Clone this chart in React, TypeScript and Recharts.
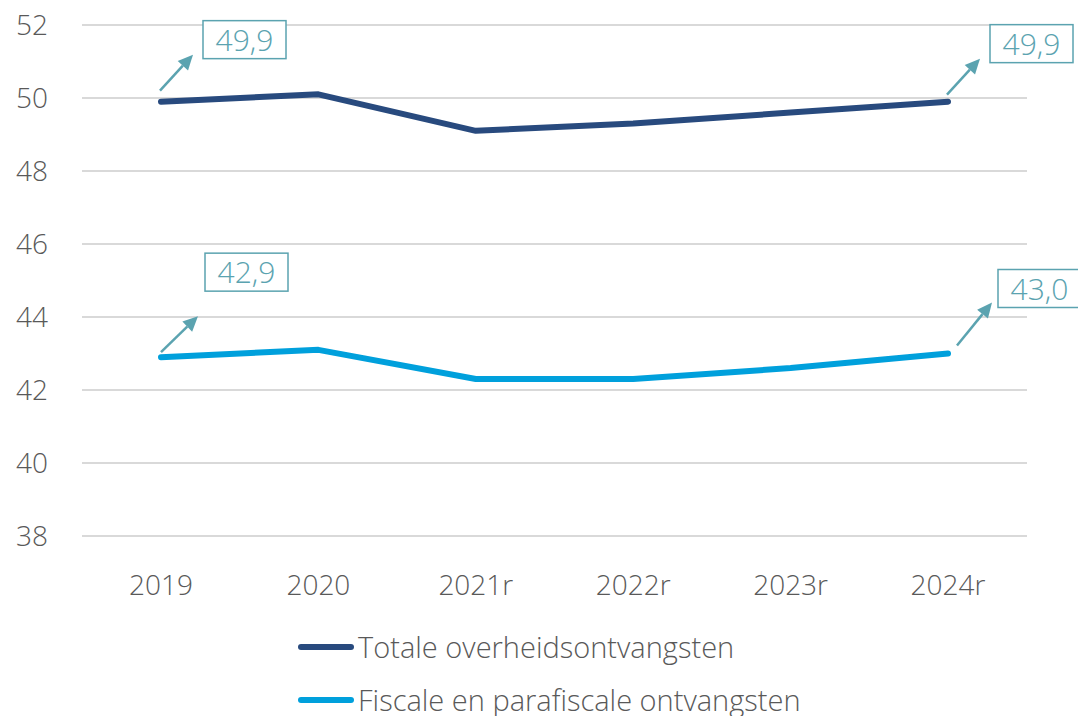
import { LineChart, Line, XAxis, YAxis, CartesianGrid, Legend, LabelList } from "recharts";

const years = ["2019", "2020", "2021r", "2022r", "2023r", "2024r"];
const totale = [49.9, 50.1, 49.1, 49.3, 49.6, 49.9];
const fiscale = [42.9, 43.1, 42.3, 42.3, 42.6, 43.0];
const yTicks = [38, 40, 42, 44, 46, 48, 50, 52];

const seriesNames = ["Totale overheidsontvangsten", "Fiscale en parafiscale ontvangsten"];
const seriesColors = ["#284A7E", "#00A0DC"];
const accent = "#5BA3B0";
const textColor = "#595959";
const font = "'Open Sans', 'Segoe UI', sans-serif";

const data = years.map((y, i) => ({ year: y, totale: totale[i], fiscale: fiscale[i] }));

// callout placement relative to the point: arrow start/end, box top-left
type Callout = { ax: number; ay: number; bx: number; by: number; boxX: number; boxY: number };
const totaleCallouts: Record<number, Callout> = {
  0: { ax: -1, ay: -11, bx: 32, by: -47, boxX: 42, boxY: -81 },
  5: { ax: -1, ay: -7, bx: 32, by: -43, boxX: 42, boxY: -77 },
};
const fiscaleCallouts: Record<number, Callout> = {
  0: { ax: 0, ay: -5, bx: 37, by: -41, boxX: 44, boxY: -104 },
  5: { ax: 9, ay: -8, bx: 44, by: -51, boxX: 50, boxY: -84 },
};

const fmt = (v: number) => v.toFixed(1).replace(".", ",");

function makeCallout(cfg: Record<number, Callout>) {
  return (props: any) => {
    const { x, y, value, index } = props;
    const c = cfg[index];
    if (!c) return null;
    const x1 = x + c.ax, y1 = y + c.ay, x2 = x + c.bx, y2 = y + c.by;
    const ang = Math.atan2(y2 - y1, x2 - x1);
    const head = 15, half = 7;
    const bx = x2 - head * Math.cos(ang), by = y2 - head * Math.sin(ang);
    const px = -Math.sin(ang) * half, py = Math.cos(ang) * half;
    return (
      <g>
        <line x1={x1} y1={y1} x2={bx} y2={by} stroke={accent} strokeWidth={2.5} />
        <polygon points={`${x2},${y2} ${bx + px},${by + py} ${bx - px},${by - py}`} fill={accent} />
        <rect x={x + c.boxX} y={y + c.boxY} width={83} height={38} fill="#fff" stroke={accent} strokeWidth={1.5} />
        <text x={x + c.boxX + 41.5} y={y + c.boxY + 30} textAnchor="middle" fill={accent}
          fontSize={30} fontFamily={font} fontWeight={300}>
          {fmt(value)}
        </text>
      </g>
    );
  };
}

function LegendBox() {
  return (
    <div style={{ paddingLeft: 298, paddingTop: 4, fontFamily: font, fontWeight: 300 }}>
      {seriesNames.map((n, i) => (
        <div key={n} style={{ display: "flex", alignItems: "center", height: 53 }}>
          <div style={{ width: 56, height: 6, borderRadius: 3, background: seriesColors[i], marginRight: 4 }} />
          <span style={{ fontSize: 29, color: textColor, whiteSpace: "nowrap" }}>{n}</span>
        </div>
      ))}
    </div>
  );
}

export default function App() {
  return (
    <div style={{ position: "absolute", left: 0, top: 0, width: 1078, height: 716, background: "#fff", overflow: "hidden" }}>
      <LineChart width={1078} height={716} data={data} margin={{ top: 25, right: 51, left: 0, bottom: 0 }}>
        <CartesianGrid vertical={false} stroke="#D9D9D9" strokeWidth={2} />
        <XAxis dataKey="year" axisLine={false} tickLine={false} tickSize={0} tickMargin={39} height={80}
          padding={{ left: 79, right: 79 }}
          tick={{ fontSize: 28, fill: textColor, fontFamily: font, fontWeight: 300 }} interval={0} />
        <YAxis domain={[38, 52]} ticks={yTicks} axisLine={false} tickLine={false} tickSize={0} tickMargin={34} width={82}
          tick={{ fontSize: 28, fill: textColor, fontFamily: font, fontWeight: 300 }} />
        <Legend verticalAlign="bottom" height={100} content={() => <LegendBox />} />
        <Line dataKey="totale" name={seriesNames[0]} stroke={seriesColors[0]} strokeWidth={6} dot={false}
          strokeLinecap="round" strokeLinejoin="round" isAnimationActive={false}>
          <LabelList dataKey="totale" content={makeCallout(totaleCallouts)} />
        </Line>
        <Line dataKey="fiscale" name={seriesNames[1]} stroke={seriesColors[1]} strokeWidth={6} dot={false}
          strokeLinecap="round" strokeLinejoin="round" isAnimationActive={false}>
          <LabelList dataKey="fiscale" content={makeCallout(fiscaleCallouts)} />
        </Line>
      </LineChart>
    </div>
  );
}
